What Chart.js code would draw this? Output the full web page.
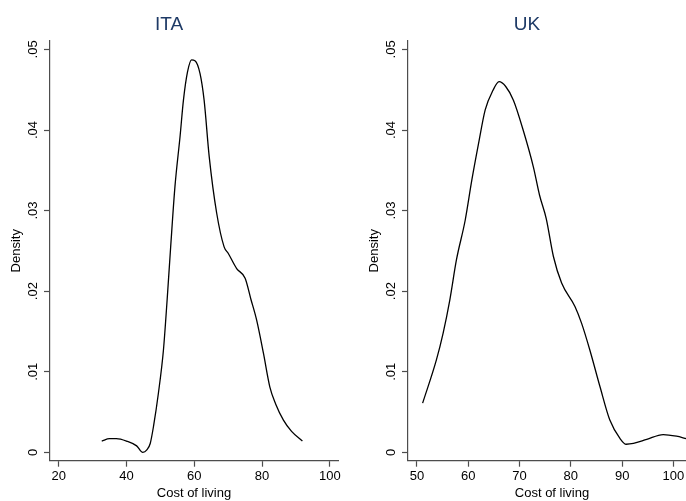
<!DOCTYPE html>
<html>
<head>
<meta charset="utf-8">
<script src="https://cdn.jsdelivr.net/npm/chart.js@4.4.1/dist/chart.umd.min.js"></script>
<style>
    html, body { margin: 0; padding: 0; overflow: hidden; background: #fff; width: 686px; height: 501px; }
    .painel { position: absolute; top: 0; width: 388px; height: 501px; }
</style>
</head>
<body>
<div class="painel" style="left:0px"><canvas id="grafico-ita"></canvas></div>
<div class="painel" style="left:358px"><canvas id="grafico-uk"></canvas></div>
<script>
// kernel density estimates
const itaCusto = [32.7, 35, 37, 40, 43, 44.8, 46, 47, 48, 49.4, 50.9, 52, 53, 54.3, 55.8, 56.8, 58, 59.2, 60.2, 61.7, 62.9, 64.4, 66.6, 68.8, 70, 72.5, 75, 76.7, 78.4, 80.4, 82.3, 84, 86.3, 88.7, 91.9];
const itaDensidade = [0.0014, 0.0017, 0.0017, 0.0014, 0.0008, 0.0000, 0.0003, 0.0011, 0.0033, 0.0073, 0.0127, 0.019, 0.0253, 0.033, 0.0392, 0.0437, 0.0472, 0.0487, 0.0486, 0.047, 0.0437, 0.0367, 0.0297, 0.0255, 0.0247, 0.0228, 0.0216, 0.019, 0.0164, 0.0123, 0.0081, 0.0060, 0.0040, 0.0026, 0.0014];

const ukCusto = [51.1, 53.8, 55.1, 56.4, 57.7, 59.4, 60.7, 62.0, 63.3, 64.8, 66.0, 67.3, 68.8, 70.7, 72.7, 73.9, 75.2, 76.6, 78.2, 80.8, 82.1, 83.7, 85.7, 87.6, 89.6, 90.8, 92.2, 94.8, 98.0, 100.6, 102.5];
const ukDensidade = [0.0061, 0.0115, 0.0148, 0.0189, 0.0239, 0.0288, 0.0338, 0.0383, 0.0425, 0.0449, 0.046, 0.0454, 0.0437, 0.04, 0.0354, 0.0319, 0.0290, 0.0243, 0.021, 0.0181, 0.016, 0.0127, 0.0081, 0.004, 0.0017, 0.001, 0.0011, 0.0016, 0.0022, 0.002, 0.0017];

const itaTicksX = [20, 40, 60, 80, 100];
const ukTicksX = [50, 60, 70, 80, 90, 100];
const ticksDensidade = [0, 0.01, 0.02, 0.03, 0.04, 0.05];

Chart.defaults.font.family = "'Liberation Sans', Arial, sans-serif";
Chart.defaults.color = '#000';

const corEixo = '#4d4d4d';

function formatarDensidade(valor) {
    if (valor === 0) {
        return '0';
    }
    return String(+valor.toFixed(2)).replace(/^0/, '');
}

function montarGrafico(idCanvas, titulo, custo, densidade, xMin, xMax, ticksX) {
    const canvas = document.getElementById(idCanvas);

    const pontos = custo.map((c, i) => ({ x: c, y: densidade[i] }));

    return new Chart(canvas, {
        type: 'line',
        data: {
            datasets: [{
                data: pontos,
                borderColor: '#000',
                borderWidth: 1.3,
                pointRadius: 0,
                cubicInterpolationMode: 'monotone',
                fill: false
            }]
        },
        options: {
            responsive: true,
            maintainAspectRatio: false,
            animation: false,
            layout: { padding: { left: 0, right: 50, top: 0, bottom: 0 } },
            plugins: {
                legend: { display: false },
                tooltip: { enabled: false },
                title: {
                    display: true,
                    text: titulo,
                    color: '#1e3a66',
                    font: { size: 19, weight: 'normal' },
                    padding: { top: 13, bottom: 5 }
                }
            },
            scales: {
                x: {
                    type: 'linear',
                    min: xMin,
                    max: xMax,
                    afterBuildTicks: (escala) => {
                        escala.ticks = ticksX.map(v => ({ value: v }));
                    },
                    afterFit: (escala) => { escala.height = 40.3; },
                    ticks: {
                        font: { size: 13 },
                        padding: 2,
                        maxRotation: 0
                    },
                    grid: {
                        drawOnChartArea: false,
                        drawTicks: true,
                        tickLength: 6,
                        tickColor: corEixo,
                        tickWidth: 1.2
                    },
                    border: { display: true, color: corEixo, width: 1.2 },
                    title: {
                        display: true,
                        text: 'Cost of living',
                        font: { size: 13 },
                        padding: { top: 0, bottom: 0 }
                    }
                },
                y: {
                    min: -0.00104,
                    max: 0.05107,
                    afterBuildTicks: (escala) => {
                        escala.ticks = ticksDensidade.map(v => ({ value: v }));
                    },
                    afterFit: (escala) => { escala.width = 50; },
                    ticks: {
                        font: { size: 13 },
                        minRotation: 90,
                        maxRotation: 90,
                        crossAlign: 'center',
                        padding: 2,
                        callback: (valor) => formatarDensidade(valor)
                    },
                    grid: {
                        drawOnChartArea: false,
                        drawTicks: true,
                        tickLength: 6,
                        tickColor: corEixo,
                        tickWidth: 1.2
                    },
                    border: { display: true, color: corEixo, width: 1.2 },
                    title: {
                        display: true,
                        text: 'Density',
                        font: { size: 13 },
                        padding: { top: 9, bottom: 0 }
                    }
                }
            }
        }
    });
}

montarGrafico('grafico-ita', 'ITA', itaCusto, itaDensidade, 17.43, 102.4, itaTicksX);
montarGrafico('grafico-uk', 'UK', ukCusto, ukDensidade, 48.25, 104.4, ukTicksX);
</script>
</body>
</html>
